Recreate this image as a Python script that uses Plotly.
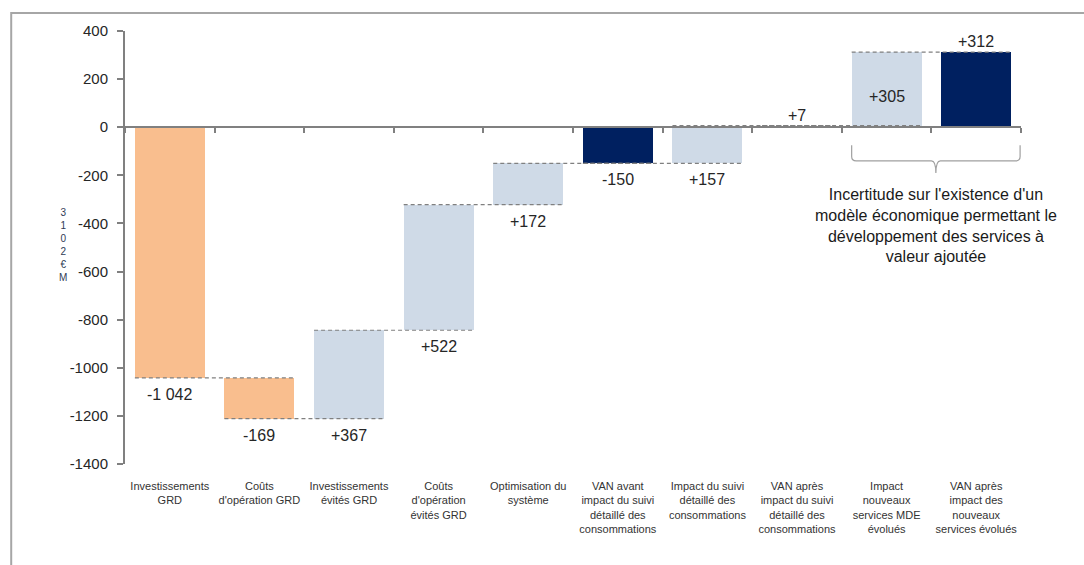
import plotly.graph_objects as go

# ---------------- data ----------------
categories = [
    "Investissements<br>GRD",
    "Coûts<br>d'opération GRD",
    "Investissements<br>évités GRD",
    "Coûts<br>d'opération<br>évités GRD",
    "Optimisation du<br>système",
    "VAN avant<br>impact du suivi<br>détaillé des<br>consommations",
    "Impact du suivi<br>détaillé des<br>consommations",
    "VAN après<br>impact du suivi<br>détaillé des<br>consommations",
    "Impact<br>nouveaux<br>services MDE<br>évolués",
    "VAN après<br>impact des<br>nouveaux<br>services évolués",
]
values = [-1042, -169, 367, 522, 172, -150, 157, 7, 305, 312]
kinds = ["delta", "delta", "delta", "delta", "delta", "total", "delta", "total", "delta", "total"]
labels = ["-1 042", "-169", "+367", "+522", "+172", "-150", "+157", "+7", "+305", "+312"]
label_pos = ["below", "below", "below", "below", "below", "below", "below", "above", "inside", "above"]
y_ticks = [400, 200, 0, -200, -400, -600, -800, -1000, -1200, -1400]
y_tick_text = ["400", "200", "0", "-200", "-400", "-600", "-800", "-1000", "-1200", "-1400"]
y_title = "M€2013"
note = ("Incertitude sur l'existence d'un<br>modèle économique permettant le<br>"
        "développement des services à<br>valeur ajoutée")

# ---------------- styles ----------------
ORANGE = "#F9BE8E"
LIGHT = "#CFDAE7"
NAVY = "#002060"
AXIS = "#808080"
TXT = "#262626"
FONT = "Liberation Sans, Arial, sans-serif"
BAR_W = 0.78
Y_MIN, Y_MAX = -1400, 400

# ---------------- waterfall geometry ----------------
xs = list(range(len(values)))
bases, ends, colors = [], [], []
running = 0
for v, k in zip(values, kinds):
    if k == "total":
        bases.append(0)
        running = v
        colors.append(NAVY)
    else:
        bases.append(running)
        running += v
        colors.append(ORANGE if v < 0 else LIGHT)
    ends.append(running)

fig = go.Figure()
fig.add_trace(go.Bar(
    x=xs, y=values, base=bases, width=BAR_W,
    marker=dict(color=colors, line=dict(width=0)),
    hoverinfo="skip", showlegend=False,
))

# connectors
for i in range(len(values) - 1):
    lvl = ends[i]
    fig.add_trace(go.Scatter(
        x=[xs[i] - BAR_W / 2, xs[i + 1] + BAR_W / 2], y=[lvl, lvl],
        mode="lines", line=dict(color=AXIS, width=1.2, dash="4px,3px"),
        hoverinfo="skip", showlegend=False,
    ))

# value labels
for i, (lab, pos) in enumerate(zip(labels, label_pos)):
    lo, hi = sorted([bases[i], bases[i] + values[i]])
    if pos == "below":
        y, ys, ya = lo, -6, "top"
    elif pos == "above":
        y, ys, ya = hi, 0, "bottom"
    else:
        y, ys, ya = (lo + hi) / 2, -8, "middle"
    fig.add_annotation(x=xs[i], y=y, text=lab, showarrow=False, yshift=ys,
                       yanchor=ya, font=dict(size=16, color=TXT, family=FONT))

# y title (characters stacked, read bottom-up)
fig.add_annotation(xref="paper", yref="paper", x=-0.076, y=0.505,
                   text="<br>".join(reversed(list(y_title))), showarrow=False,
                   align="center", font=dict(size=10, color="#2f3b55", family=FONT))

# bracket + note
x0 = xs[-2] - BAR_W / 2
x1 = xs[-1] + 0.49
xm = (x0 + x1) / 2
top, mid, tip = -75, -140, -190
dx, dy = 0.05, 18
path = (f"M {x0},{top} L {x0},{mid+dy} Q {x0},{mid} {x0+dx},{mid} "
        f"L {xm-dx},{mid} Q {xm},{mid} {xm},{tip} Q {xm},{mid} {xm+dx},{mid} "
        f"L {x1-dx},{mid} Q {x1},{mid} {x1},{mid+dy} L {x1},{top}")
fig.add_shape(type="path", path=path, xref="x", yref="y",
              line=dict(color="#A0A0A0", width=1.2))
fig.add_annotation(x=xm, y=-238, text=note, showarrow=False, yanchor="top",
                   align="center", font=dict(size=16, color="#1a1a1a", family=FONT))

# outer frame (right and bottom edges fall outside the picture)
fig.add_shape(type="rect", xref="paper", yref="paper",
              x0=-0.127, x1=1.2, y0=-0.3, y1=1.0416,
              line=dict(color="#A6A6A6", width=2), layer="below")

zero_pos = (0 - Y_MIN) / (Y_MAX - Y_MIN)

fig.update_layout(
    width=1084, height=565,
    margin=dict(l=125, r=63, t=31, b=101),
    paper_bgcolor="white", plot_bgcolor="white",
    showlegend=False, bargap=0,
    font=dict(family=FONT, color=TXT),
    xaxis=dict(
        range=[-0.5, len(values) - 0.5], tickvals=xs, ticktext=categories,
        showline=False, ticks="", showgrid=False, zeroline=False,
        tickfont=dict(size=11, color="#333"), ticklabelstandoff=14,
    ),
    xaxis2=dict(
        overlaying="x", anchor="free", position=zero_pos, side="bottom",
        range=[-0.5, len(values) - 0.5], tick0=0.5, dtick=1,
        showline=True, linecolor=AXIS, linewidth=2,
        ticks="outside", ticklen=5, tickwidth=1.5, tickcolor=AXIS,
        showticklabels=False, showgrid=False, zeroline=False,
    ),
    yaxis=dict(
        range=[Y_MIN, Y_MAX], tickvals=y_ticks, ticktext=y_tick_text,
        showline=True, linecolor=AXIS, linewidth=2,
        ticks="outside", ticklen=6, tickwidth=1.5, tickcolor=AXIS,
        showgrid=False, zeroline=False,
        tickfont=dict(size=15, color="#262626"), ticklabelstandoff=6,
    ),
)
fig.add_trace(go.Scatter(x=[None], y=[None], xaxis="x2", showlegend=False, hoverinfo="skip"))

fig.write_html("out.html")
